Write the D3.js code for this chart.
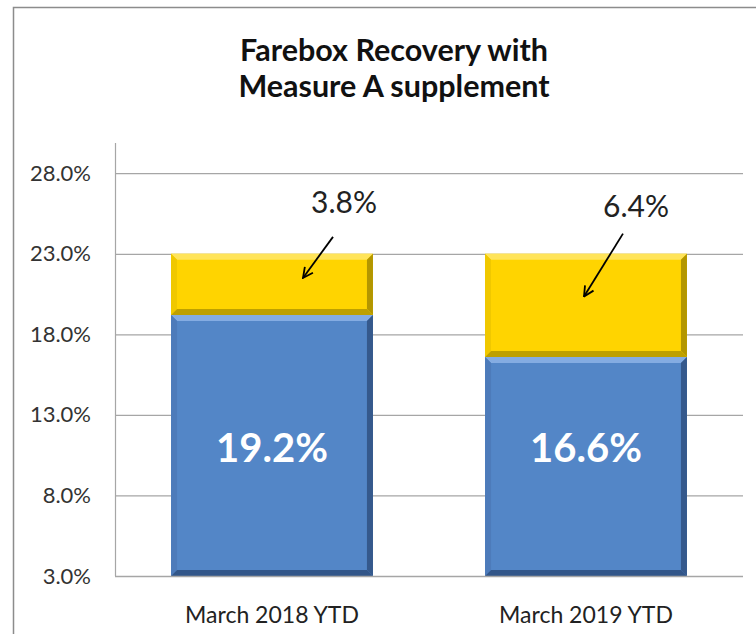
<!DOCTYPE html>
<html>
<head>
<meta charset="utf-8">
<script src="https://cdn.jsdelivr.net/npm/d3@7"></script>
<style>
  body { margin: 0; background: #fff; }
  svg { display: block; font-family: Lato, "Open Sans", sans-serif; }
</style>
</head>
<body>
<script>
const w = 756;
const h = 634;

// data
const categories = ["March 2018 YTD", "March 2019 YTD"];
const baseRecovery = [19.2, 16.6];     // blue
const measureA = [3.8, 6.4];           // yellow
const tickValues = [3, 8, 13, 18, 23, 28];
const titleLines = ["Farebox Recovery with", "Measure A supplement"];

const margin = { left: 115, right: 13, top: 141, bottom: 58 };

const svg = d3.select("body")
  .append("svg")
  .attr("width", w)
  .attr("height", h);

// outer chart frame (runs off the right / bottom of the shot)
svg.append("rect")
  .attr("x", 13.5)
  .attr("y", 7.5)
  .attr("width", 800)
  .attr("height", 700)
  .attr("fill", "none")
  .attr("stroke", "#8c8c8c")
  .attr("stroke-width", 1.5);

// title, two separate lines
svg.selectAll(".title")
  .data(titleLines)
  .enter().append("text")
  .attr("class", "title")
  .attr("x", 394)
  .attr("y", (d, i) => 61 + i * 36)
  .attr("text-anchor", "middle")
  .attr("font-weight", "bold")
  .attr("font-size", 30.5)
  .attr("fill", "#111")
  .text(d => d);

const xScale = d3.scaleBand()
  .domain(categories)
  .range([margin.left, w - margin.right])
  .paddingInner(0.357)
  .paddingOuter(0.357 / 2);

const yScale = d3.scaleLinear()
  .domain([3, 30])
  .range([h - margin.bottom, margin.top])
  .clamp(true);

// gridlines + y labels
const yAxis = d3.axisLeft(yScale)
  .tickValues(tickValues)
  .tickSize(-(w - margin.right - margin.left))
  .tickPadding(24)
  .tickFormat(d => d3.format(".1f")(d) + "%");

const gy = svg.append("g")
  .attr("class", "y-axis")
  .attr("transform", "translate(" + margin.left + ",0)")
  .call(yAxis);
gy.select(".domain").remove();
gy.selectAll(".tick line").attr("stroke", "#a6a6a6").attr("stroke-width", 1.2);
gy.selectAll(".tick text")
  .attr("font-size", 22)
  .attr("font-family", "Lato, sans-serif")
  .attr("fill", "#333");

// vertical axis line
svg.append("line")
  .attr("x1", margin.left + 0.5).attr("x2", margin.left + 0.5)
  .attr("y1", margin.top + 2).attr("y2", yScale(3))
  .attr("stroke", "#a6a6a6").attr("stroke-width", 1.2);

// stacked bars
const table = categories.map((c, i) => ({ cat: c, base: baseRecovery[i], extra: measureA[i] }));
const series = d3.stack().keys(["base", "extra"])(table);

const palette = {
  base:  { fill: "#5386c7", top: "#84ace2", left: "#4d7bba", right: "#35598c", bottom: "#325689" },
  extra: { fill: "#ffd400", top: "#ffe45a", left: "#f0c800", right: "#b39600", bottom: "#bea000" }
};

const bevel = 6;

series.forEach(s => {
  const col = palette[s.key];
  const g = svg.append("g").attr("class", "series-" + s.key);
  s.forEach((d, i) => {
    const x0 = xScale(d.data.cat);
    const x1 = x0 + xScale.bandwidth();
    const y0 = yScale(d[1]);
    const y1 = yScale(d[0]);
    const b = bevel;
    g.append("rect")
      .attr("x", x0).attr("y", y0)
      .attr("width", x1 - x0).attr("height", y1 - y0)
      .attr("fill", col.fill);
    const faces = [
      [[x0, y0], [x1, y0], [x1 - b, y0 + b], [x0 + b, y0 + b], col.top],
      [[x0, y0], [x0 + b, y0 + b], [x0 + b, y1 - b], [x0, y1], col.left],
      [[x1, y0], [x1 - b, y0 + b], [x1 - b, y1 - b], [x1, y1], col.right],
      [[x0, y1], [x1, y1], [x1 - b, y1 - b], [x0 + b, y1 - b], col.bottom]
    ];
    faces.forEach(f => {
      g.append("polygon")
        .attr("points", f.slice(0, 4).map(p => p.join(",")).join(" "))
        .attr("fill", f[4]);
    });
  });
});

// bottom axis line + category labels
svg.append("line")
  .attr("x1", margin.left).attr("x2", w - margin.right)
  .attr("y1", yScale(3) + 0.5).attr("y2", yScale(3) + 0.5)
  .attr("stroke", "#a6a6a6").attr("stroke-width", 1.5);

svg.selectAll(".cat-label")
  .data(categories)
  .enter().append("text")
  .attr("class", "cat-label")
  .attr("x", d => xScale(d) + xScale.bandwidth() / 2)
  .attr("y", 623)
  .attr("text-anchor", "middle")
  .attr("font-size", 23)
  .attr("fill", "#222")
  .text(d => d);

// white value labels inside blue bars
svg.selectAll(".base-label")
  .data(table)
  .enter().append("text")
  .attr("class", "base-label")
  .attr("x", d => xScale(d.cat) + xScale.bandwidth() / 2)
  .attr("y", yScale(11))
  .attr("dy", "0.36em")
  .attr("text-anchor", "middle")
  .attr("font-size", 40)
  .attr("font-weight", "bold")
  .attr("fill", "#fff")
  .text(d => d.base.toFixed(1) + "%");

// annotations for the Measure A part: text above, arrow pointing into the yellow
const annoText = { dx: [72, 50], v: [25.55, 25.3] };
const annoArrow = { dx0: [61, 37], v0: [24.05, 24.25], dx1: [31, -2], v1: [21.5, 20.35] };

svg.append("defs").append("marker")
  .attr("id", "arrow")
  .attr("viewBox", "0 0 12 12")
  .attr("refX", 11).attr("refY", 6)
  .attr("markerWidth", 12).attr("markerHeight", 12)
  .attr("markerUnits", "userSpaceOnUse")
  .attr("orient", "auto")
  .append("path")
  .attr("d", "M1,1 L11,6 L1,11")
  .attr("fill", "none")
  .attr("stroke", "#000")
  .attr("stroke-width", 1.8);

table.forEach((d, i) => {
  const cx = xScale(d.cat) + xScale.bandwidth() / 2;
  svg.append("text")
    .attr("x", cx + annoText.dx[i])
    .attr("y", yScale(annoText.v[i]))
    .attr("text-anchor", "middle")
    .attr("font-size", 30)
    .attr("fill", "#222")
    .text(d.extra.toFixed(1) + "%");
  svg.append("line")
    .attr("x1", cx + annoArrow.dx0[i]).attr("y1", yScale(annoArrow.v0[i]))
    .attr("x2", cx + annoArrow.dx1[i]).attr("y2", yScale(annoArrow.v1[i]))
    .attr("stroke", "#000")
    .attr("stroke-width", 1.8)
    .attr("marker-end", "url(#arrow)");
});
</script>
</body>
</html>
